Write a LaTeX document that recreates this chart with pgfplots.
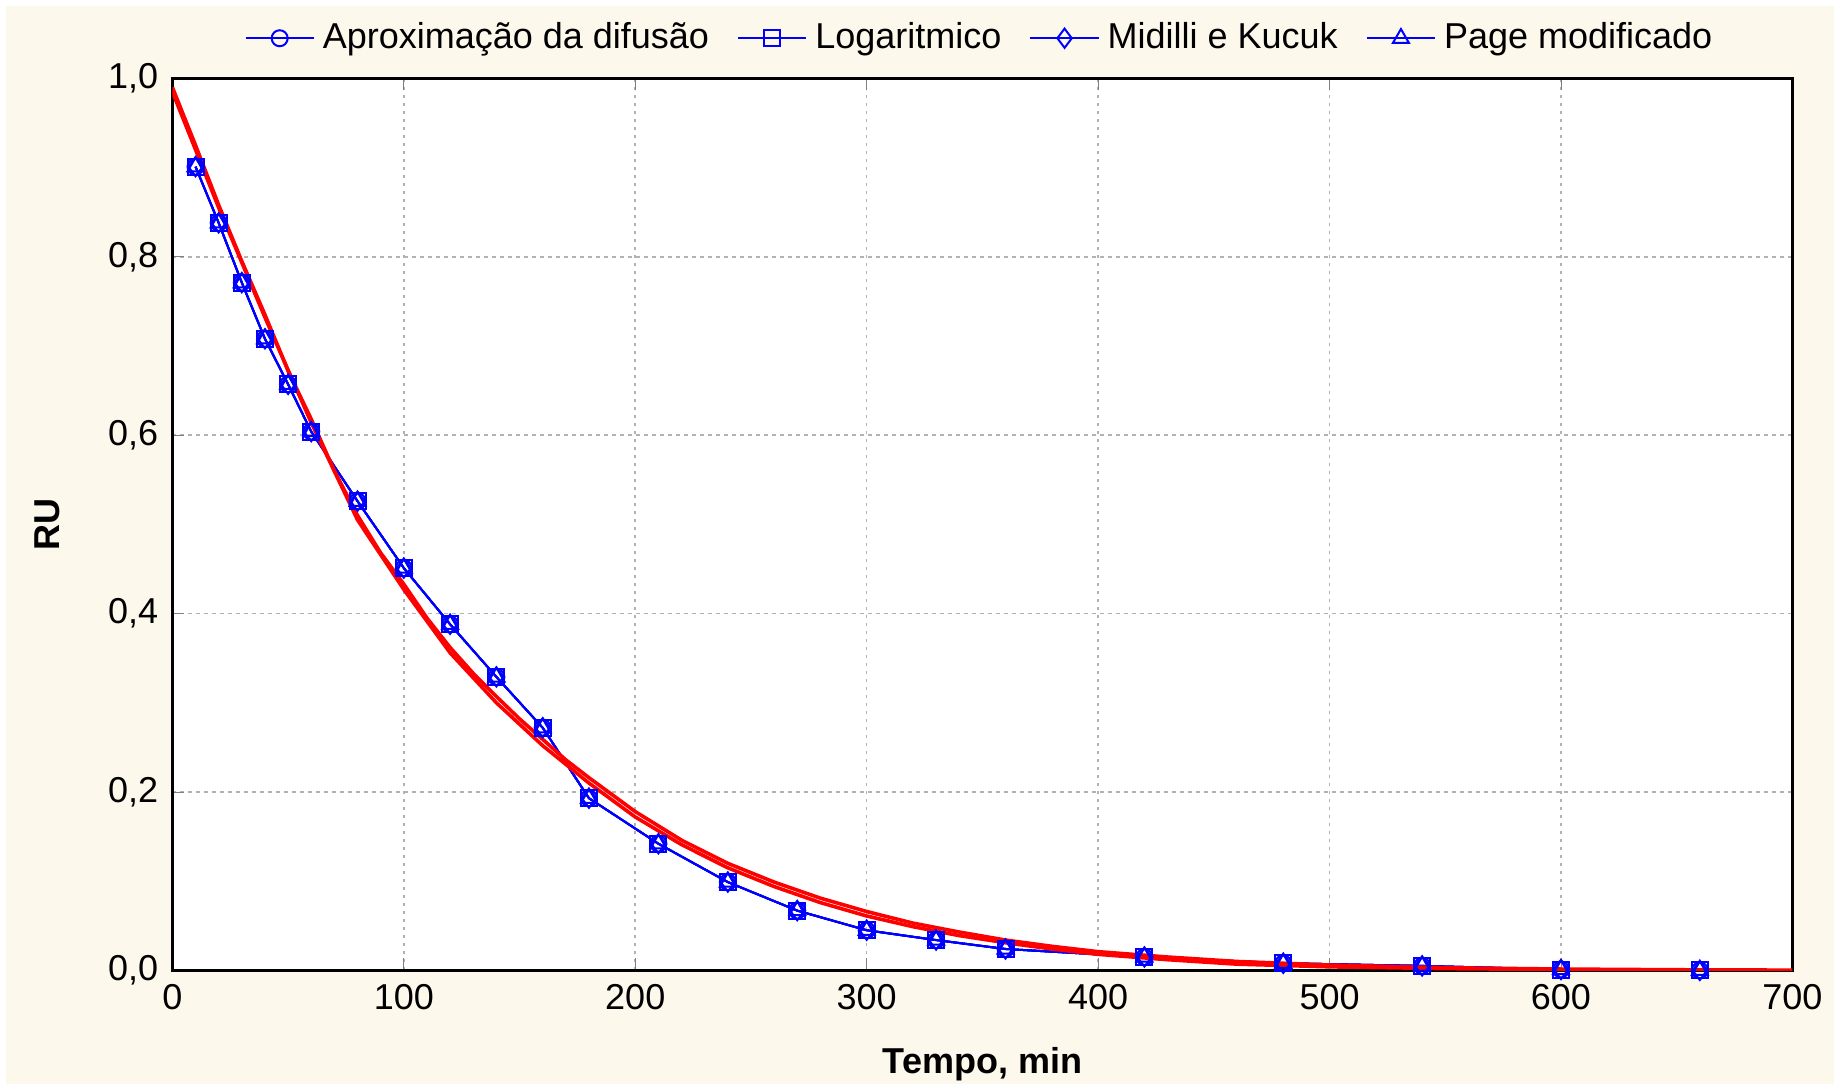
\documentclass[border=0pt]{standalone}
\usepackage{fontspec}
\setmainfont{Liberation Sans}
\usepackage{pgfplots}
\pgfplotsset{compat=1.18}
\usepackage{pgfplotstable}

\definecolor{cream}{RGB}{253,248,236}
\definecolor{obsblue}{RGB}{0,0,255}
\definecolor{fitred}{RGB}{255,0,0}

% observed RU
\pgfplotstableread{
t ru
10 0.901
20 0.838
30 0.771
40 0.708
50 0.657
60 0.604
80 0.526
100 0.451
120 0.388
140 0.329
160 0.272
180 0.193
210 0.142
240 0.099
270 0.067
300 0.045
330 0.034
360 0.024
420 0.015
480 0.008
540 0.005
600 0.001
660 0.000
}\obs

% fitted curves
\pgfplotstableread{
t ru
0 0.990
10 0.925
20 0.858
30 0.795
40 0.735
50 0.672
60 0.618
70 0.560
80 0.510
90 0.468
100 0.433
110 0.395
120 0.362
130 0.333
140 0.307
150 0.282
160 0.259
170 0.236
180 0.216
200 0.178
220 0.146
240 0.120
260 0.099
280 0.081
300 0.066
320 0.053
340 0.043
360 0.034
380 0.027
400 0.021
430 0.015
460 0.010
500 0.006
550 0.003
600 0.0015
650 0.0007
700 0.0003
}\fitA

\pgfplotstableread{
t ru
0 0.985
20 0.855
40 0.732
60 0.614
80 0.505
100 0.427
120 0.356
140 0.300
160 0.252
180 0.210
200 0.172
220 0.141
240 0.115
260 0.094
280 0.076
300 0.061
320 0.049
340 0.039
360 0.031
380 0.024
400 0.018
430 0.012
460 0.007
500 0.004
550 0.002
600 0.001
}\fitB

\begin{document}
\begin{tikzpicture}[x=1pt,y=1pt]
\fill[white] (0,0) rectangle (460,272.5);
\fill[cream] (1.5,1.5) rectangle (458.5,271);
\begin{axis}[
    at={(43.1pt,29.9pt)}, anchor=south west,
    scale only axis, width=405pt, height=223pt,
    xmin=0, xmax=700, ymin=0, ymax=1,
    axis background/.style={fill=white},
    axis line style={line width=0.8pt},
    xtick={0,100,...,700},
    ytick={0,0.2,0.4,0.6,0.8,1},
    yticklabel style={/pgf/number format/.cd, fixed, fixed zerofill, precision=1, use comma},
    /pgf/number format/assume math mode=true,
    tick label style={font=\fontsize{9}{10}\selectfont},
    tick align=inside, major tick length=3pt,
    xtick pos=both, ytick pos=left,
    grid=major,
    grid style={gray!60, dash pattern=on 0.8pt off 1.2pt},
    xlabel={Tempo, min}, ylabel={RU},
    label style={font=\fontsize{9}{10}\selectfont\bfseries},
    xlabel style={at={(axis description cs:0.5,-0.105)}, anchor=center},
    ylabel style={at={(axis description cs:-0.077,0.5)}, anchor=center},
    legend columns=4,
    legend style={at={(0.5,1.045)}, anchor=center, draw=none, fill=none,
        font=\fontsize{9}{10}\selectfont,
        /tikz/every even column/.append style={column sep=5pt}},
    every axis plot/.append style={line width=0.5pt},
]
\addplot[obsblue, mark=o, mark size=2pt, mark options={fill=white}] table {\obs};
\addlegendentry{Aproximação da difusão}
\addplot[obsblue, mark=square, mark size=2pt, mark options={fill=white}] table {\obs};
\addlegendentry{Logaritmico}
\addplot[obsblue, mark=diamond, mark size=2.4pt, mark options={fill=white}] table {\obs};
\addlegendentry{Midilli e Kucuk}
\addplot[obsblue, mark=triangle, mark size=2.3pt, mark options={fill=white}] table {\obs};
\addlegendentry{Page modificado}

\addplot[fitred, line width=0.9pt, forget plot] table {\fitB};
\addplot[fitred, line width=0.9pt, forget plot] table {\fitA};
\end{axis}
\pgfresetboundingbox
\useasboundingbox (0,0) rectangle (460,272.5);
\end{tikzpicture}
\end{document}
